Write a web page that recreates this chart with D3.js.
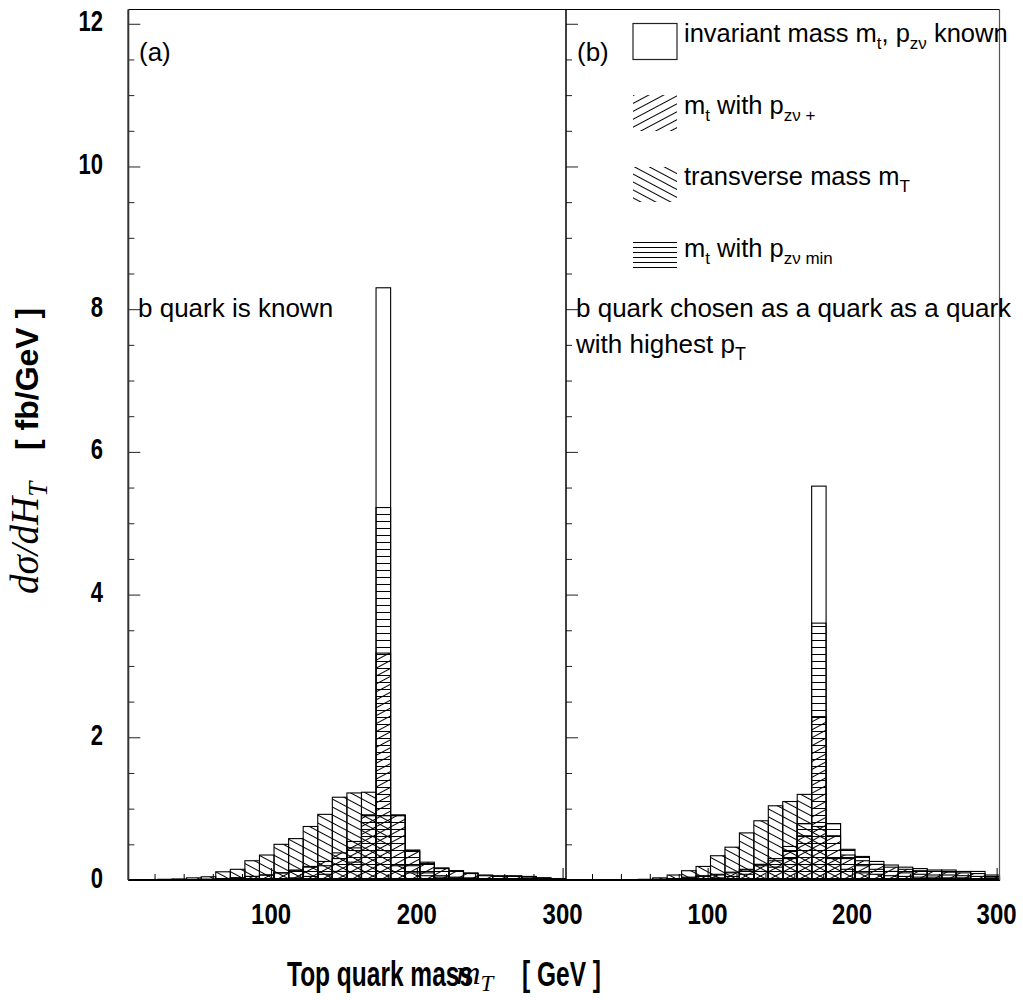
<!DOCTYPE html>
<html><head><meta charset="utf-8">
<script src="https://cdn.jsdelivr.net/npm/d3@7"></script>
<style>body{margin:0;background:#fff}</style>
</head><body>
<svg id="c" width="1023" height="1000"></svg>
<script>
// ---- data ----
const binLow = [2,12,22,32,42,52,62,72,82,92,102,112,122,132,142,152,162,172,182,192,202,212,222,232,242,252,262,272,282,292];
const binWidth = 10;
const xTicksMajor = [100,200,300];
const xTicksMinor = [20,40,60,80,120,140,160,180,220,240,260,280];
const yTicksMajor = [0,2,4,6,8,10,12];
const yTicksMinor = [0.5,1,1.5,2.5,3,3.5,4.5,5,5.5,6.5,7,7.5,8.5,9,9.5,10.5,11,11.5];

// panel (a): b quark is known
const openA  = [0,0,0,0,0,0,0,0,0,0,0.02,0.03,0.05,0.08,0.12,0.25,0.91,8.3,0.91,0.2,0.1,0.06,0.04,0.03,0.02,0.01,0.01,0.01,0.01,0.01];
const fwdA   = [0,0,0,0,0,0.01,0.02,0.03,0.05,0.07,0.1,0.14,0.19,0.26,0.38,0.54,0.91,3.18,0.91,0.4,0.25,0.17,0.13,0.1,0.07,0.06,0.05,0.05,0.03,0.02];
const mTA    = [0,0.005,0.01,0.015,0.03,0.045,0.115,0.15,0.27,0.35,0.5,0.58,0.75,0.92,1.16,1.22,1.23,0.9,0.2,0.1,0.06,0.04,0.03,0.02,0.02,0.01,0.01,0.01,0.01,0.01];
const minA   = [0,0,0,0,0,0.01,0.02,0.03,0.05,0.07,0.1,0.13,0.18,0.2,0.3,0.45,0.9,5.22,0.9,0.42,0.23,0.16,0.13,0.09,0.06,0.05,0.06,0.04,0.03,0.02];

// panel (b): b quark chosen with highest pT
const openB  = [0,0,0,0,0,0,0,0,0,0,0.03,0.05,0.08,0.12,0.18,0.3,0.79,5.52,0.79,0.3,0.2,0.15,0.12,0.1,0.08,0.07,0.07,0.06,0.05,0.04];
const fwdB   = [0,0,0,0,0,0,0.01,0.02,0.03,0.05,0.07,0.1,0.14,0.2,0.27,0.4,0.62,2.29,0.62,0.35,0.27,0.22,0.18,0.15,0.13,0.12,0.11,0.1,0.09,0.05];
const mTB    = [0,0,0,0,0,0.01,0.03,0.07,0.13,0.19,0.34,0.46,0.66,0.83,1.04,1.1,1.2,0.75,0.3,0.15,0.1,0.08,0.06,0.05,0.04,0.04,0.03,0.03,0.02,0.02];
const minB   = [0,0,0,0,0,0,0.01,0.02,0.04,0.06,0.08,0.11,0.15,0.22,0.3,0.47,0.79,3.6,0.79,0.43,0.33,0.26,0.21,0.18,0.16,0.14,0.14,0.12,0.12,0.07];

const legendLabels = [
  [["invariant mass m",0],["t",1],[", p",0],["zν",1],[" known",0]],
  [["m",0],["t",1],[" with p",0],["zν +",1]],
  [["transverse mass m",0],["T",1]],
  [["m",0],["t",1],[" with p",0],["zν min",1]]
];

// ---- drawing ----
const svg = d3.select("#c");
const SANS = "'Liberation Sans', Arial, Helvetica, sans-serif";
const SERIF = "'Liberation Serif', 'Times New Roman', serif";
const defs = svg.append("defs");
function hatch(id, angle, gap){
  const p = defs.append("pattern").attr("id",id).attr("patternUnits","userSpaceOnUse")
    .attr("width",gap).attr("height",gap).attr("patternTransform",`rotate(${angle})`);
  p.append("line").attr("x1",-1).attr("x2",gap+1).attr("y1",gap/2).attr("y2",gap/2)
    .attr("stroke","#000").attr("stroke-width",1);
}
hatch("fwd",-28,7);
hatch("bwd",28,7);
hatch("hor",0,7);
hatch("horL",0,5);

const y = d3.scaleLinear().domain([0,12.2]).range([880,9.5]);
const xA = d3.scaleLinear().domain([2,302]).range([128.3,565.5]);
const xB = d3.scaleLinear().domain([2,302]).range([566,999.5]);

function panel(x, series){
  const g = svg.append("g");
  series.forEach(s=>{
    g.append("g").selectAll("rect").data(s.vals.map((v,i)=>({v,i})).filter(d=>d.v>0))
      .join("rect")
      .attr("x",d=>x(binLow[d.i]))
      .attr("width",d=>x(binLow[d.i]+binWidth)-x(binLow[d.i]))
      .attr("y",d=>y(d.v))
      .attr("height",d=>y(0)-y(d.v))
      .attr("fill",s.fill).attr("stroke","#000").attr("stroke-width",1.1);
  });
  // x ticks (inward)
  const ax1 = d3.axisBottom(x).tickValues(xTicksMajor).tickSize(-12).tickFormat("");
  const ax2 = d3.axisBottom(x).tickValues(xTicksMinor).tickSize(-6).tickFormat("");
  [ax1,ax2].forEach(a=>{
    const ga = svg.append("g").attr("transform",`translate(0,${y(0)})`).call(a);
    ga.select(".domain").remove();
    ga.selectAll("line").attr("stroke","#000").attr("stroke-width",1);
  });
  // y ticks (inward)
  const x0 = x.range()[0];
  const ay1 = d3.axisLeft(y).tickValues(yTicksMajor).tickSize(-12).tickFormat("");
  const ay2 = d3.axisLeft(y).tickValues(yTicksMinor).tickSize(-6).tickFormat("");
  [ay1,ay2].forEach(a=>{
    const ga = svg.append("g").attr("transform",`translate(${x0},0)`).call(a);
    ga.select(".domain").remove();
    ga.selectAll("line").attr("stroke","#222").attr("stroke-width",1);
  });
  // x labels
  xTicksMajor.forEach(v=>{
    svg.append("text").attr("transform",`translate(${x(v)},924) scale(1,1.2)`)
      .attr("text-anchor","middle").attr("font-family",SANS).attr("font-weight","bold")
      .attr("font-size",24).text(v);
  });
}
panel(xA,[{vals:openA,fill:"none"},{vals:minA,fill:"url(#hor)"},{vals:fwdA,fill:"url(#fwd)"},{vals:mTA,fill:"url(#bwd)"}]);
panel(xB,[{vals:openB,fill:"none"},{vals:minB,fill:"url(#hor)"},{vals:fwdB,fill:"url(#fwd)"},{vals:mTB,fill:"url(#bwd)"}]);

// frames
svg.append("line").attr("x1",128.3).attr("x2",999.5).attr("y1",9.5).attr("y2",9.5).attr("stroke","#000").attr("stroke-width",1.2);
svg.append("line").attr("x1",128.3).attr("x2",999.5).attr("y1",880).attr("y2",880).attr("stroke","#000").attr("stroke-width",2);
svg.append("line").attr("x1",128.3).attr("x2",128.3).attr("y1",9.5).attr("y2",880).attr("stroke","#333").attr("stroke-width",2);
svg.append("line").attr("x1",566).attr("x2",566).attr("y1",9.5).attr("y2",880).attr("stroke","#000").attr("stroke-width",1.5);
svg.append("line").attr("x1",999.5).attr("x2",999.5).attr("y1",9.5).attr("y2",880).attr("stroke","#555").attr("stroke-width",1.2);

// y labels
yTicksMajor.forEach(v=>{
  svg.append("text").attr("transform",`translate(103,${y(v)+7.5}) scale(1,1.3)`)
    .attr("text-anchor","end").attr("font-family",SANS).attr("font-weight","bold")
    .attr("font-size",22).text(v);
});

// axis titles
const xt = svg.append("g");
xt.append("text").attr("transform","translate(287,986) scale(1,1.4)").attr("font-family",SANS)
  .attr("font-weight","bold").attr("font-size",24.5).text("Top quark mass");
const xm = xt.append("text").attr("transform","translate(456,984)").attr("font-family",SERIF)
  .attr("font-style","italic").attr("font-size",34);
xm.append("tspan").text("m");
xm.append("tspan").attr("dy",7).attr("font-size",23).text("T");
xt.append("text").attr("transform","translate(522,986) scale(1,1.4)").attr("font-family",SANS)
  .attr("font-weight","bold").attr("font-size",24.5).text("[ GeV ]");

const yt = svg.append("g").attr("transform","translate(38,594) rotate(-90)");
const yt1 = yt.append("text").attr("font-family",SERIF).attr("font-style","italic").attr("font-size",39);
yt1.append("tspan").text("dσ/dH");
yt1.append("tspan").attr("dy",9).attr("font-size",27).text("T");
yt.append("text").attr("x",144).attr("font-family",SANS).attr("font-weight","bold").attr("font-size",32).text("[ fb/GeV ]");

// annotations
function txt(x,yy,str,size){ return svg.append("text").attr("x",x).attr("y",yy).attr("font-family",SANS).attr("font-size",size||26).text(str); }
txt(139,61,"(a)");
txt(577,61,"(b)");
txt(138,317,"b quark is known");
txt(576,317,"b quark chosen as a quark as a quark");
const wh = svg.append("text").attr("x",576).attr("y",353).attr("font-family",SANS).attr("font-size",26);
wh.append("tspan").text("with highest p");
wh.append("tspan").attr("dy",7).attr("font-size",18).text("T");

// legend
const legY = [23.5,95,167,238];
const legH = [36,36,35,30];
const legFill = ["none","url(#fwd)","url(#bwd)","url(#horL)"];
const legBase = [42,114,185,257];
legendLabels.forEach((parts,i)=>{
  svg.append("rect").attr("x",633).attr("y",legY[i]).attr("width",44).attr("height",legH[i])
    .attr("fill",legFill[i]).attr("stroke",i===0?"#222":"none").attr("stroke-width",1.2);
  const t = svg.append("text").attr("x",684).attr("y",legBase[i]).attr("font-family",SANS).attr("font-size",25.5);
  let sub=false;
  parts.forEach(([s,isSub])=>{
    const ts = t.append("tspan").text(s);
    if(isSub && !sub){ ts.attr("dy",7).attr("font-size",17); sub=true; }
    else if(isSub){ ts.attr("font-size",17); }
    else if(!isSub && sub){ ts.attr("dy",-7); sub=false; }
  });
});
</script>
</body></html>
